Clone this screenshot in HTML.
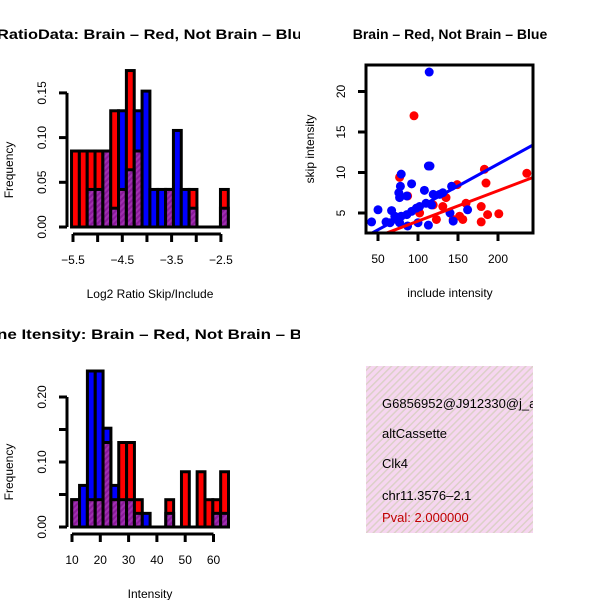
<!DOCTYPE html>
<html><head><meta charset="utf-8"><style>
html,body{margin:0;padding:0;background:#fff}
svg text{font-family:"Liberation Sans",sans-serif}
</style></head><body>
<svg id="chart" width="600" height="600" xmlns="http://www.w3.org/2000/svg">
<defs>
<pattern id="purp" width="4" height="4" patternUnits="userSpaceOnUse" patternTransform="rotate(45)">
<rect width="4" height="4" fill="#8a1a9a"/><rect width="2" height="4" fill="#a030b0"/>
</pattern>
<pattern id="pinkbg" width="5" height="5" patternUnits="userSpaceOnUse" patternTransform="rotate(45)">
<rect width="5" height="5" fill="#f6d6f0"/><rect width="1.5" height="5" fill="#dcd0c8"/>
</pattern>
<clipPath id="c1"><rect x="0" y="0" width="300" height="300"/></clipPath>
<clipPath id="c3"><rect x="0" y="300" width="300" height="300"/></clipPath>
<clipPath id="cs"><rect x="366" y="65" width="167" height="168"/></clipPath>
<clipPath id="ci"><rect x="366" y="366" width="167" height="167"/></clipPath>
</defs>
<g id="g1"></g>
<g id="g2"></g>
<g id="g3"></g>
<g id="g4">
<rect x="366" y="366" width="167" height="167" fill="url(#pinkbg)"/>
<g clip-path="url(#ci)">
<text x="382" y="408" font-size="13">G6856952@J912330@j_at_1</text>
<text x="382" y="438" font-size="13">altCassette</text>
<text x="382" y="468" font-size="13">Clk4</text>
<text x="382" y="500" font-size="13">chr11.3576–2.1</text>
<text x="382" y="522" font-size="13" fill="#c00000">Pval: 2.000000</text>
</g>
</g>
</svg>
<script>
// ---- ratio histogram data ----
const ratioStart = -5.53;
const ratioBinWidth = 0.159;
const ratioRed  = [0.085,0.085,0.085,0.085,0.085,0.13,0.042,0.175,0.085,0,0,0,0.042,0,0,0.042,0,0,0,0.042];
const ratioBlue = [0,0,0.042,0.042,0.085,0.021,0.13,0.064,0.13,0.152,0.042,0.042,0.042,0.108,0.042,0.021,0,0,0,0.021];
const ratioXTicks = [-5.5,-5,-4.5,-4,-3.5,-3,-2.5];
const ratioXLabels = ["−5.5","","−4.5","","−3.5","","−2.5"];
const ratioYTicks = [0,0.05,0.10,0.15];
const ratioYLabels = ["0.00","0.05","0.10","0.15"];
// ---- intensity histogram data ----
const intStart = 9.9;
const intBinWidth = 2.77;
const intRed  = [0.042,0,0.042,0.042,0.13,0.042,0.13,0.13,0.042,0,0,0,0.042,0,0.085,0,0.085,0.042,0.042,0.085];
const intBlue = [0.042,0.064,0.24,0.24,0.152,0.064,0.042,0.042,0.021,0.021,0,0,0.021,0,0,0,0,0,0.021,0.021];
const intXTicks = [10,20,30,40,50,60];
const intXLabels = ["10","20","30","40","50","60"];
const intYTicks = [0,0.05,0.10,0.15,0.20];
const intYLabels = ["0.00","","0.10","","0.20"];
// ---- scatter data ----
const blueX = [114,113,79,92,78,108,142,76,86,77,119,127,131,50,42,67,60,71,79,86,92,98,102,110,117,140,144,162,113,87,77,65,73,100,115];
const blueY = [22.4,10.8,9.8,8.6,8.3,7.8,8.3,7.5,7.1,6.9,7.3,7.3,7.5,5.4,3.9,5.3,3.9,4.6,4.6,4.8,5.2,5.6,5.8,6.2,6.0,5.0,4.0,5.4,3.5,3.4,3.8,3.8,4.2,3.8,10.8];
const redX = [95,77,183,236,185,149,135,160,179,201,187,152,156,179,123,131,102,87,119,144];
const redY = [17.0,9.4,10.4,9.9,8.7,8.5,6.9,6.2,5.8,4.9,4.8,4.6,4.2,3.9,4.2,5.8,5.0,7.1,6.0,4.2];
const blueFit = [0.23,0.054];
const redFit = [0.25,0.0375];
const scatXTicks = [50,100,150,200];
const scatYTicks = [5,10,15,20];

const NS="http://www.w3.org/2000/svg";
function mk(parent,tag,attrs){const e=document.createElementNS(NS,tag);for(const k in attrs)e.setAttribute(k,attrs[k]);parent.appendChild(e);return e;}

function histogram(g, start, bw, red, blue, sx, sy, xt, xl, yt, yl, axY, axX, title, xlab, titleY, clip, titleName){
  const hg=mk(g,'g',{'clip-path':clip});
  for(let i=0;i<red.length;i++){
    const x0=sx(start+i*bw), x1=sx(start+(i+1)*bw);
    const r=red[i], b=blue[i], hi=Math.max(r,b), lo=Math.min(r,b);
    if(hi>0){
      const bar=mk(g,'rect',{x:x0,y:sy(hi),width:x1-x0,height:sy(0)-sy(hi),fill:r>=b?'#ff0000':'#0000ff',stroke:'#000','stroke-width':3});
      
      
    }
    if(lo>0){
      const ov=mk(g,'rect',{x:x0,y:sy(lo),width:x1-x0,height:sy(0)-sy(lo),fill:'url(#purp)',stroke:'#000','stroke-width':3});
      
      
    }
  }
  // baseline segments for empty
  mk(g,'line',{x1:sx(start),x2:sx(start+red.length*bw),y1:sy(0),y2:sy(0),stroke:'#000','stroke-width':3});
  // x axis
  const xa=mk(g,'g',{});
  
  
  mk(xa,'line',{x1:sx(xt[0]),x2:sx(xt[xt.length-1]),y1:axY,y2:axY,stroke:'#000','stroke-width':3});
  xt.forEach((v,i)=>{mk(xa,'line',{x1:sx(v),x2:sx(v),y1:axY,y2:axY+8,stroke:'#000','stroke-width':3});
    if(xl[i]){const t=mk(xa,'text',{x:sx(v),y:axY+30,'font-size':12,'text-anchor':'middle'});t.textContent=xl[i];
      
      }});
  const ya=mk(g,'g',{});
  
  
  mk(ya,'line',{x1:axX,x2:axX,y1:sy(yt[0]),y2:sy(yt[yt.length-1]),stroke:'#000','stroke-width':3});
  yt.forEach((v,i)=>{mk(ya,'line',{x1:axX-8,x2:axX,y1:sy(v),y2:sy(v),stroke:'#000','stroke-width':3});
    if(yl[i]){const t=mk(ya,'text',{x:0,y:0,'font-size':12,'text-anchor':'middle',transform:`translate(${axX-21},${sy(v)}) rotate(-90)`});t.textContent=yl[i];
      
      }});
  const ty=mk(g,'text',{x:0,y:0,'font-size':12,'text-anchor':'middle',transform:`translate(13,${(sy(yt[0])+sy(yt[yt.length-1]))/2+10}) rotate(-90)`});
  ty.textContent='Frequency';
  
  
  const tx=mk(g,'text',{x:150,y:axY+64,'font-size':12,'text-anchor':'middle'});
  tx.textContent=xlab;
  
  
  const tt=mk(g,'text',{x:-3,y:titleY,'font-size':14,'font-weight':'bold',textLength:305,lengthAdjust:'spacingAndGlyphs','clip-path':clip});
  tt.textContent=title;
  
  
}

// ratio hist: -5.5 -> 73, 49.3 px/unit; y 0 -> 227, 894 px/unit
const r_sx=v=>73+(v+5.5)*49.3, r_sy=v=>227-v*894;
histogram(document.getElementById('g1'),ratioStart,ratioBinWidth,ratioRed,ratioBlue,r_sx,r_sy,ratioXTicks,ratioXLabels,ratioYTicks,ratioYLabels,234,67,
 'RatioData: Brain – Red, Not Brain – Blu','Log2 Ratio Skip/Include',39,'url(#c1)','ratio-histogram-title');
// intensity hist: 10 -> 72, 2.83 px/unit; y 0 -> 527, 650 px/unit
const i_sx=v=>72+(v-10)*2.83, i_sy=v=>527-v*650;
histogram(document.getElementById('g3'),intStart,intBinWidth,intRed,intBlue,i_sx,i_sy,intXTicks,intXLabels,intYTicks,intYLabels,534,67,
 'ne Itensity: Brain – Red, Not Brain – B','Intensity',339,'url(#c3)','intensity-histogram-title');

// scatter
(function(){
  const g=document.getElementById('g2');
  const sx=v=>378+(v-50)*0.8, sy=v=>213-(v-5)*8.1;
  const pg=mk(g,'g',{'clip-path':'url(#cs)'});
  redX.forEach((x,i)=>{const c=mk(pg,'circle',{cx:sx(x),cy:sy(redY[i]),r:4.5,fill:'#ff0000'});
    
    });
  blueX.forEach((x,i)=>{const c=mk(pg,'circle',{cx:sx(x),cy:sy(blueY[i]),r:4.5,fill:'#0000ff'});
    
    });
  const xa=35, xb=250;
  const rl=mk(pg,'line',{x1:sx(xa),y1:sy(redFit[0]+redFit[1]*xa),x2:sx(xb),y2:sy(redFit[0]+redFit[1]*xb),stroke:'#ff0000','stroke-width':3});
  
  
  const bl=mk(pg,'line',{x1:sx(xa),y1:sy(blueFit[0]+blueFit[1]*xa),x2:sx(xb),y2:sy(blueFit[0]+blueFit[1]*xb),stroke:'#0000ff','stroke-width':3});
  
  
  const box=mk(g,'rect',{x:366,y:65,width:167,height:168,fill:'none',stroke:'#000','stroke-width':3});
  
  
  scatXTicks.forEach(v=>{mk(g,'line',{x1:sx(v),x2:sx(v),y1:233,y2:241,stroke:'#000','stroke-width':3});
    const t=mk(g,'text',{x:sx(v),y:263,'font-size':12,'text-anchor':'middle'});t.textContent=String(v);
    
    });
  scatYTicks.forEach(v=>{mk(g,'line',{x1:358,x2:366,y1:sy(v),y2:sy(v),stroke:'#000','stroke-width':3});
    const t=mk(g,'text',{x:0,y:0,'font-size':12,'text-anchor':'middle',transform:`translate(345,${sy(v)}) rotate(-90)`});t.textContent=String(v);
    
    });
  const ty=mk(g,'text',{x:0,y:0,'font-size':12,'text-anchor':'middle',transform:'translate(314,149) rotate(-90)'});
  ty.textContent='skip intensity';
  
  
  const tx=mk(g,'text',{x:450,y:297,'font-size':12,'text-anchor':'middle'});
  tx.textContent='include intensity';
  
  
  const tt=mk(g,'text',{x:450,y:39,'font-size':14,'font-weight':'bold','text-anchor':'middle'});
  tt.textContent='Brain – Red, Not Brain – Blue';
  
  
})();
</script>
</body></html>
